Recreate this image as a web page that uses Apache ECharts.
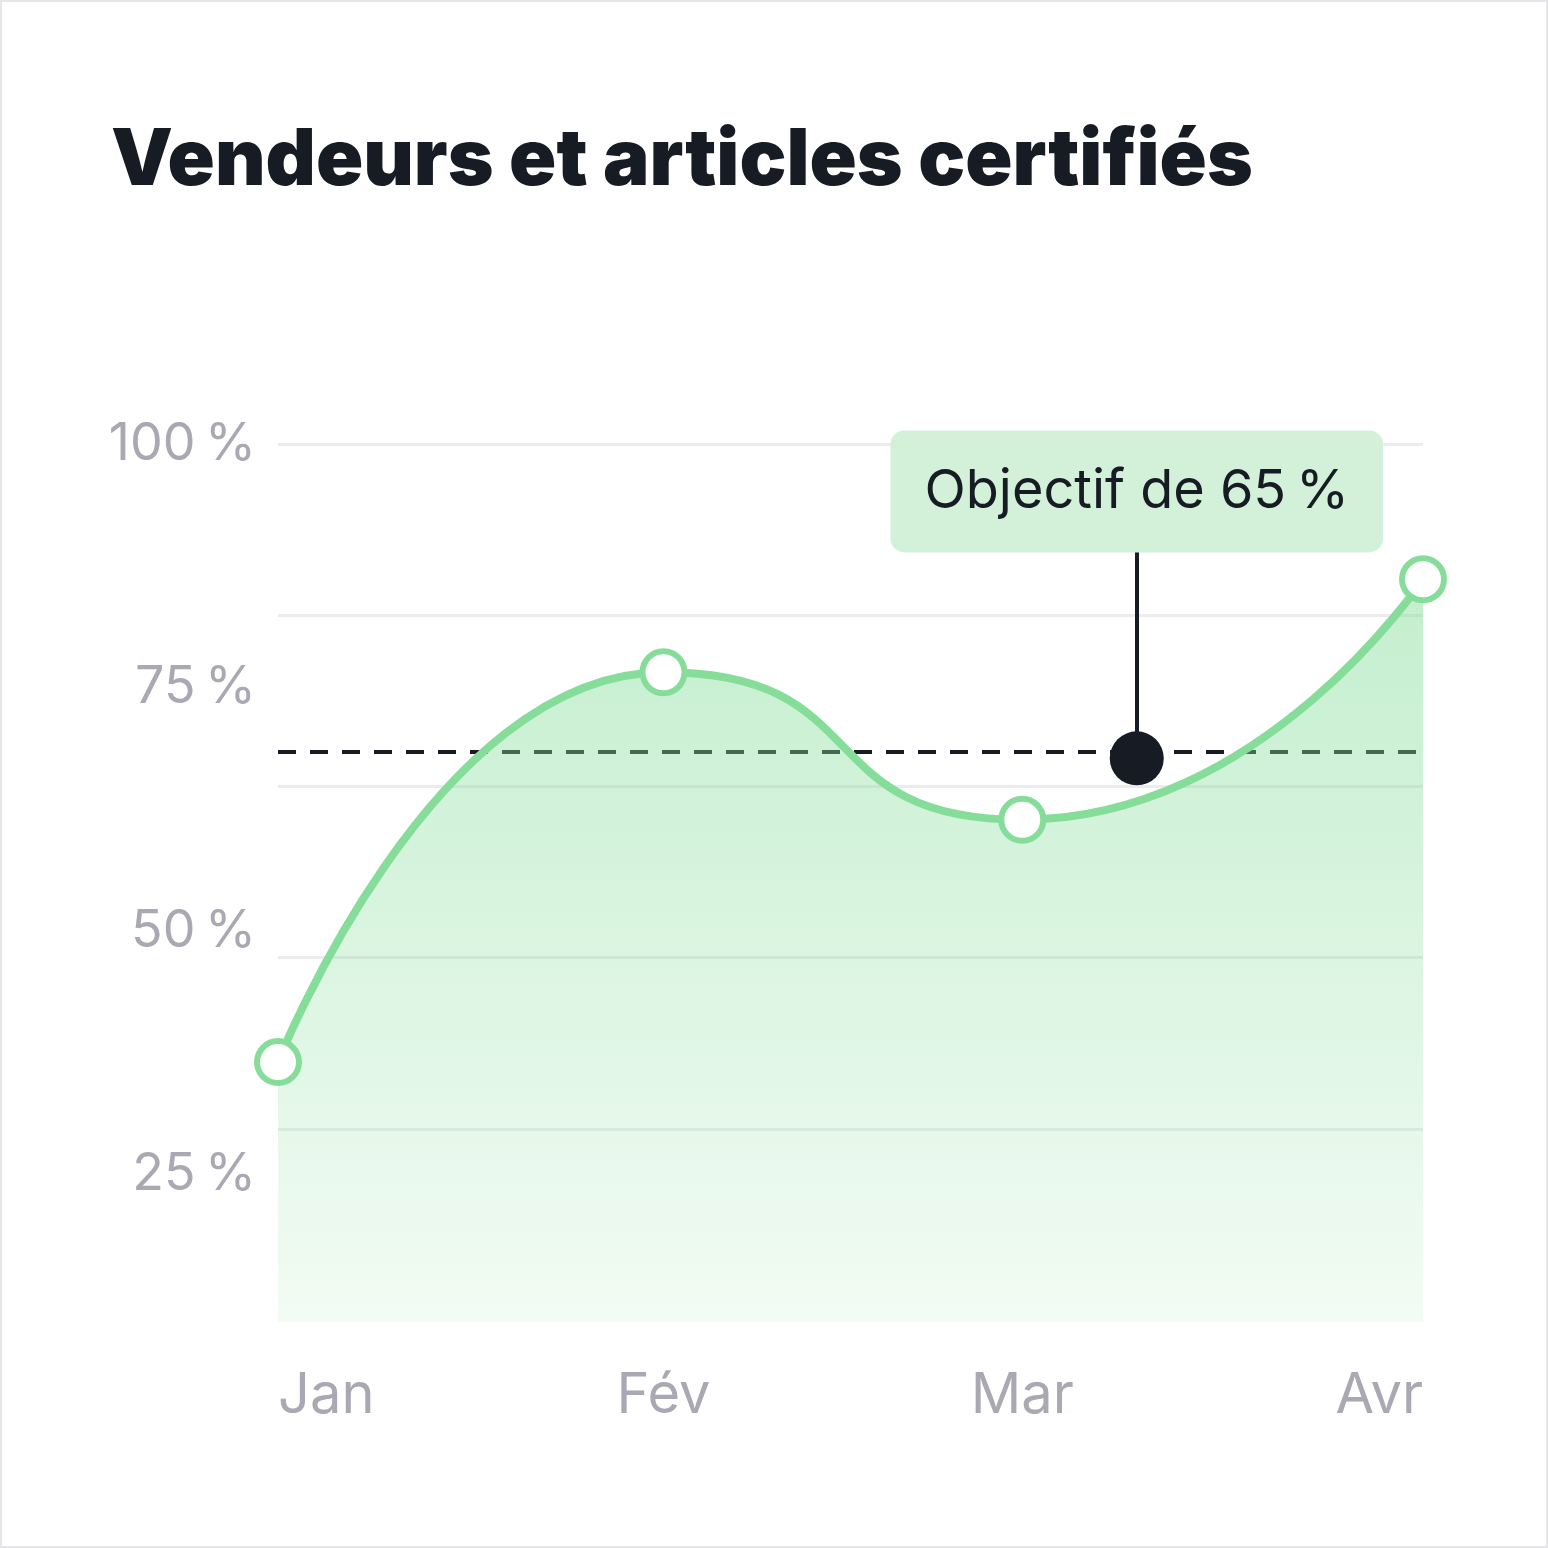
<!DOCTYPE html>
<html>
<head>
<meta charset="utf-8">
<script src="https://cdn.jsdelivr.net/npm/echarts@6/dist/echarts.min.js"></script>
<style>html,body{margin:0;padding:0;background:#fff}#chart{width:1548px;height:1548px}</style>
</head>
<body>
<div id="chart"></div>
<script>
const months = ['Jan', 'Fév', 'Mar', 'Avr'];
const monthPos = [0, 1.01, 1.95, 3];
const values = [29.6, 74.0, 57.2, 84.6];
const target = 65;
const targetPos = 2.25;
const yTicks = [25, 50, 75, 100];
const gridValues = [100, 80.5, 61, 41.5, 22];

const green = '#86dd9a';
const chart = echarts.init(document.getElementById('chart'));

const option = {
  animation: false,
  backgroundColor: '#fff',
  title: {
    text: 'Vendeurs et articles certifiés',
    left: 106,
    top: 118,
    textStyle: { fontFamily: 'Inter', fontWeight: 900, fontSize: 78, color: '#161b24' }
  },
  graphic: [{
    type: 'rect',
    shape: { x: 1, y: 1, width: 1546, height: 1546 },
    style: { fill: 'none', stroke: '#e6e6e8', lineWidth: 2 },
    silent: true
  }],
  grid: { left: 278, right: 125, top: 444, bottom: 226 },
  xAxis: {
    type: 'value',
    min: 0,
    max: 3,
    splitLine: { show: false },
    axisLine: { show: false },
    axisTick: { show: false },
    axisLabel: {
      customValues: monthPos,
      formatter: function (v) {
        const i = monthPos.indexOf(v);
        return i >= 0 ? months[i] : '';
      },
      alignMinLabel: 'left',
      alignMaxLabel: 'right',
      margin: 46,
      fontFamily: 'Inter',
      fontSize: 56,
      color: '#a9a8b3'
    }
  },
  yAxis: [{
    type: 'value',
    min: 0,
    max: 100,
    show: false
  }, {
    type: 'value',
    position: 'left',
    min: 9.9,
    max: 100,
    splitLine: { show: false },
    axisLine: { show: false },
    axisTick: { show: false },
    axisLabel: {
      customValues: yTicks,
      formatter: '{value}\u2009%',
      margin: 22,
      fontFamily: 'Inter',
      fontSize: 52,
      color: '#a9a8b3'
    }
  }],
  series: [
    {
      type: 'line',
      smooth: 0.6,
      smoothMonotone: 'x',
      data: monthPos.map((x, i) => [x, values[i]]),
      lineStyle: { color: green, width: 8 },
      symbol: 'circle',
      symbolSize: 42,
      itemStyle: { color: '#fff', borderColor: green, borderWidth: 6 },
      z: 5,
      areaStyle: {
        color: new echarts.graphic.LinearGradient(0, 0, 0, 1, [
          { offset: 0, color: 'rgba(134,221,154,0.7)' },
          { offset: 1, color: 'rgba(134,221,154,0.15)' }
        ])
      },
      markLine: {
        silent: true,
        symbol: 'none',
        label: { show: false },
        lineStyle: { color: '#ececee', width: 3, type: 'solid' },
        data: gridValues.map(v => ({ yAxis: v }))
      }
    },
    {
      type: 'line',
      data: [],
      z: 3,
      markLine: {
        silent: true,
        symbol: 'none',
        label: { show: false },
        data: [
          { yAxis: target, lineStyle: { color: '#161b24', width: 4, type: [18, 14] } },
          [
            { coord: [targetPos, target], lineStyle: { color: '#161b24', width: 4, type: 'solid' } },
            { coord: [targetPos, 87.9] }
          ]
        ]
      }
    },
    {
      type: 'scatter',
      z: 10,
      data: [[targetPos, target - 0.8]],
      symbolSize: 54,
      itemStyle: { color: '#161b24', opacity: 1 }
    },
    {
      type: 'scatter',
      z: 10,
      symbolSize: 0,
      data: [[targetPos, 94.6]],
      itemStyle: { opacity: 1 },
      label: {
        show: true,
        position: 'inside',
        formatter: 'Objectif de 65\u2009%',
        fontFamily: 'Inter',
        fontSize: 54,
        color: '#161b24',
        backgroundColor: '#d3f0d9',
        borderRadius: 14,
        padding: [34, 34, 34, 34]
      }
    }
  ]
};
chart.setOption(option);
</script>
</body>
</html>
